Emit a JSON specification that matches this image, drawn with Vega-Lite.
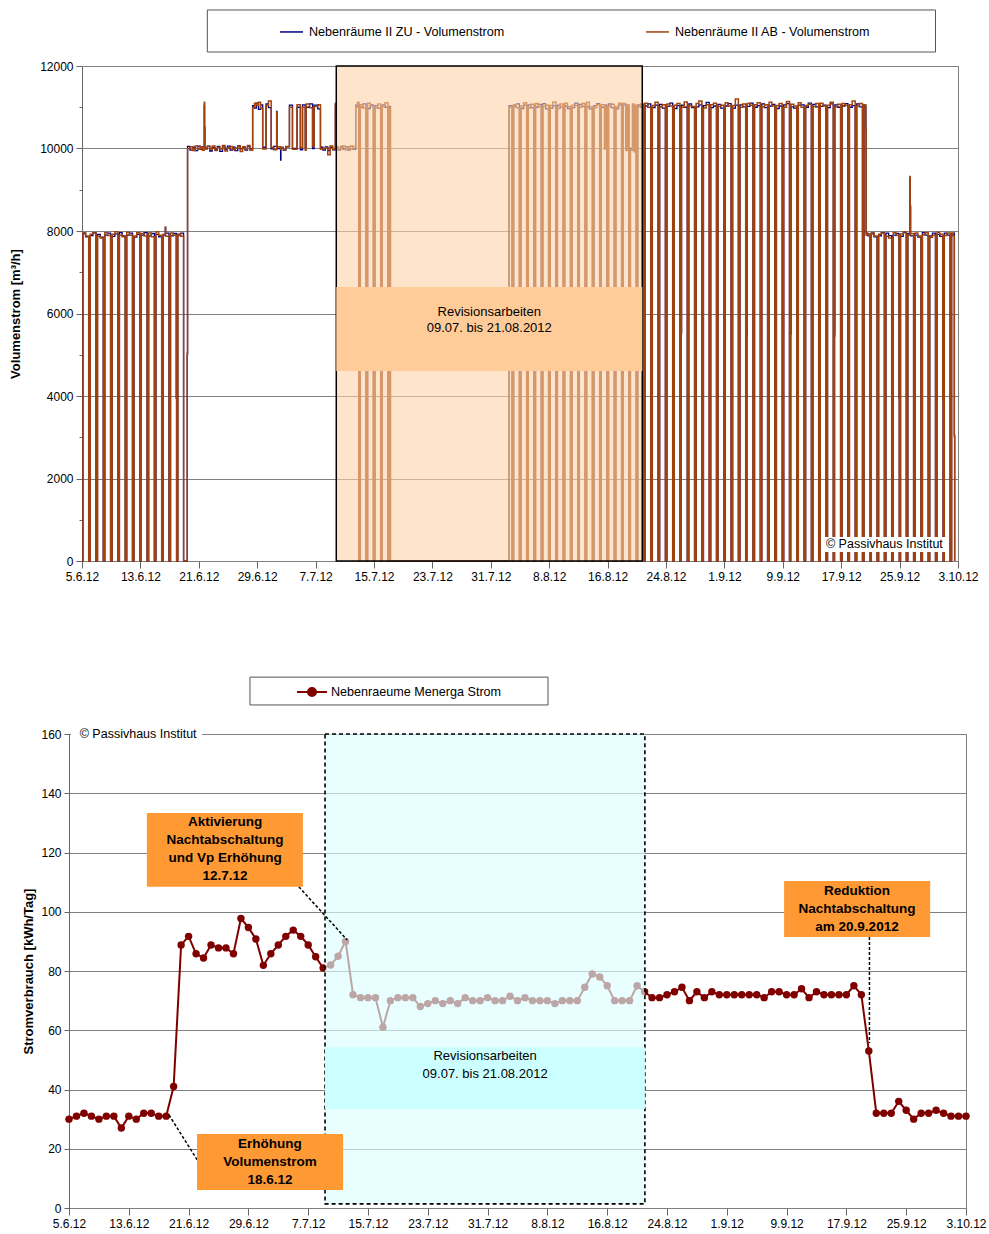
{
"$schema": "https://vega.github.io/schema/vega-lite/v6.json",
"padding": {"left": 9, "top": 8, "right": 2, "bottom": 4},
"spacing": 92,
"config": {
  "font": "Liberation Sans",
  "view": {"stroke": "#808080", "strokeWidth": 1},
  "axis": {"labelFontSize": 12, "labelColor": "black", "titleFontSize": 13, "titleFontWeight": "bold", "titleColor": "black", "domainColor": "#666666", "tickColor": "#666666", "gridColor": "#808080", "gridWidth": 1, "labelFont": "Liberation Sans", "titleFont": "Liberation Sans"},
  "legend": {"labelFontSize": 12.6, "labelColor": "black", "labelFont": "Liberation Sans"},
  "text": {"font": "Liberation Sans"}
},
"resolve": {"scale": {"color": "independent"}, "legend": {"color": "independent"}},
"datasets": {
"flow": [
{"t":"2012-06-05 00","zu":0,"ab":0},
{"t":"2012-06-05 03","zu":7930,"ab":7960},
{"t":"2012-06-05 12","zu":7860,"ab":7880},
{"t":"2012-06-05 22","zu":0,"ab":0},
{"t":"2012-06-06 03","zu":7890,"ab":7920},
{"t":"2012-06-06 12","zu":7960,"ab":7950},
{"t":"2012-06-06 22","zu":0,"ab":0},
{"t":"2012-06-07 03","zu":7920,"ab":7870},
{"t":"2012-06-07 12","zu":7850,"ab":7830},
{"t":"2012-06-07 22","zu":0,"ab":0},
{"t":"2012-06-08 03","zu":7900,"ab":7960},
{"t":"2012-06-08 12","zu":7950,"ab":7890},
{"t":"2012-06-08 22","zu":0,"ab":0},
{"t":"2012-06-09 03","zu":7870,"ab":7920},
{"t":"2012-06-09 12","zu":7930,"ab":7980},
{"t":"2012-06-09 22","zu":0,"ab":0},
{"t":"2012-06-10 03","zu":7960,"ab":7900},
{"t":"2012-06-10 12","zu":7880,"ab":7860},
{"t":"2012-06-10 22","zu":0,"ab":0},
{"t":"2012-06-11 03","zu":7900,"ab":7970},
{"t":"2012-06-11 12","zu":7950,"ab":7900},
{"t":"2012-06-11 22","zu":0,"ab":0},
{"t":"2012-06-12 03","zu":7850,"ab":7880},
{"t":"2012-06-12 12","zu":7920,"ab":7960},
{"t":"2012-06-12 22","zu":0,"ab":0},
{"t":"2012-06-13 02","zu":3950,"ab":3950},
{"t":"2012-06-13 03","zu":7900,"ab":7940},
{"t":"2012-06-13 12","zu":7960,"ab":7880},
{"t":"2012-06-13 22","zu":0,"ab":0},
{"t":"2012-06-14 03","zu":7880,"ab":7950},
{"t":"2012-06-14 12","zu":7940,"ab":7860},
{"t":"2012-06-14 22","zu":0,"ab":0},
{"t":"2012-06-15 03","zu":7920,"ab":7980},
{"t":"2012-06-15 12","zu":7860,"ab":7900},
{"t":"2012-06-15 22","zu":0,"ab":0},
{"t":"2012-06-16 03","zu":7900,"ab":7920},
{"t":"2012-06-16 10","zu":8080,"ab":8100},
{"t":"2012-06-16 11","zu":7950,"ab":7870},
{"t":"2012-06-16 22","zu":0,"ab":0},
{"t":"2012-06-17 03","zu":7880,"ab":7950},
{"t":"2012-06-17 12","zu":7940,"ab":7900},
{"t":"2012-06-17 22","zu":3950,"ab":3950},
{"t":"2012-06-17 23","zu":0,"ab":0},
{"t":"2012-06-18 03","zu":7900,"ab":7930},
{"t":"2012-06-18 12","zu":7950,"ab":7870},
{"t":"2012-06-18 22","zu":0,"ab":0},
{"t":"2012-06-19 10","zu":5000,"ab":5050},
{"t":"2012-06-19 11","zu":10050,"ab":10000},
{"t":"2012-06-19 19","zu":9960,"ab":10040},
{"t":"2012-06-20 04","zu":10030,"ab":9950},
{"t":"2012-06-20 12","zu":9950,"ab":10060},
{"t":"2012-06-20 20","zu":10060,"ab":9980},
{"t":"2012-06-21 05","zu":9980,"ab":10040},
{"t":"2012-06-21 12","zu":10040,"ab":9960},
{"t":"2012-06-21 18","zu":11050,"ab":11120},
{"t":"2012-06-21 19","zu":10500,"ab":10530},
{"t":"2012-06-21 20","zu":10000,"ab":9990},
{"t":"2012-06-22 04","zu":10060,"ab":10050},
{"t":"2012-06-22 12","zu":9940,"ab":9980},
{"t":"2012-06-22 20","zu":10020,"ab":10060},
{"t":"2012-06-23 05","zu":9970,"ab":9950},
{"t":"2012-06-23 13","zu":10050,"ab":10030},
{"t":"2012-06-23 21","zu":9930,"ab":9990},
{"t":"2012-06-24 06","zu":10040,"ab":10070},
{"t":"2012-06-24 14","zu":9980,"ab":9940},
{"t":"2012-06-24 22","zu":10060,"ab":10020},
{"t":"2012-06-25 07","zu":9960,"ab":10050},
{"t":"2012-06-25 15","zu":10030,"ab":9970},
{"t":"2012-06-25 23","zu":9950,"ab":10010},
{"t":"2012-06-26 08","zu":10070,"ab":10060},
{"t":"2012-06-26 16","zu":9990,"ab":9930},
{"t":"2012-06-27 00","zu":10030,"ab":10040},
{"t":"2012-06-27 08","zu":9960,"ab":9980},
{"t":"2012-06-27 16","zu":10050,"ab":10070},
{"t":"2012-06-28 00","zu":9990,"ab":9960},
{"t":"2012-06-28 09","zu":11040,"ab":11000},
{"t":"2012-06-28 15","zu":10980,"ab":11100},
{"t":"2012-06-28 21","zu":11100,"ab":11050},
{"t":"2012-06-29 04","zu":10950,"ab":11120},
{"t":"2012-06-29 11","zu":11060,"ab":10980},
{"t":"2012-06-29 18","zu":10030,"ab":9990},
{"t":"2012-06-30 05","zu":11080,"ab":11040},
{"t":"2012-06-30 13","zu":10990,"ab":11150},
{"t":"2012-06-30 22","zu":9990,"ab":10030},
{"t":"2012-07-01 06","zu":10050,"ab":9970},
{"t":"2012-07-01 16","zu":10900,"ab":10880},
{"t":"2012-07-01 17","zu":10000,"ab":10040},
{"t":"2012-07-02 05","zu":9720,"ab":9980},
{"t":"2012-07-02 06","zu":10020,"ab":10030},
{"t":"2012-07-02 14","zu":9960,"ab":9970},
{"t":"2012-07-02 22","zu":10040,"ab":10050},
{"t":"2012-07-03 10","zu":11050,"ab":11000},
{"t":"2012-07-03 20","zu":10000,"ab":9980},
{"t":"2012-07-04 11","zu":11000,"ab":11060},
{"t":"2012-07-04 22","zu":9970,"ab":10020},
{"t":"2012-07-05 05","zu":11060,"ab":11000},
{"t":"2012-07-05 14","zu":10020,"ab":9960},
{"t":"2012-07-05 17","zu":11000,"ab":11080},
{"t":"2012-07-06 04","zu":11080,"ab":10990},
{"t":"2012-07-06 14","zu":10000,"ab":10050},
{"t":"2012-07-06 19","zu":11050,"ab":11020},
{"t":"2012-07-07 07","zu":10960,"ab":11060},
{"t":"2012-07-07 16","zu":10030,"ab":9980},
{"t":"2012-07-08 00","zu":9960,"ab":10000},
{"t":"2012-07-08 08","zu":10040,"ab":10020},
{"t":"2012-07-08 16","zu":9950,"ab":9850},
{"t":"2012-07-09 00","zu":10030,"ab":10060},
{"t":"2012-07-09 08","zu":9970,"ab":9980},
{"t":"2012-07-09 17","zu":11050,"ab":11100},
{"t":"2012-07-09 18","zu":10010,"ab":10040},
{"t":"2012-07-10 02","zu":9960,"ab":9980},
{"t":"2012-07-10 10","zu":10050,"ab":10030},
{"t":"2012-07-10 18","zu":9980,"ab":10060},
{"t":"2012-07-11 02","zu":10040,"ab":9970},
{"t":"2012-07-11 10","zu":9960,"ab":10040},
{"t":"2012-07-11 18","zu":10060,"ab":9990},
{"t":"2012-07-12 02","zu":9980,"ab":10050},
{"t":"2012-07-12 12","zu":11050,"ab":11000},
{"t":"2012-07-12 18","zu":11100,"ab":11120},
{"t":"2012-07-12 22","zu":0,"ab":0},
{"t":"2012-07-13 03","zu":11000,"ab":11060},
{"t":"2012-07-13 12","zu":11080,"ab":10980},
{"t":"2012-07-13 22","zu":0,"ab":0},
{"t":"2012-07-14 03","zu":10970,"ab":11100},
{"t":"2012-07-14 12","zu":11060,"ab":11030},
{"t":"2012-07-14 22","zu":0,"ab":0},
{"t":"2012-07-15 03","zu":11040,"ab":10990},
{"t":"2012-07-15 12","zu":10980,"ab":11080},
{"t":"2012-07-15 22","zu":0,"ab":0},
{"t":"2012-07-16 03","zu":11060,"ab":11020},
{"t":"2012-07-16 12","zu":11000,"ab":11110},
{"t":"2012-07-16 22","zu":0,"ab":0},
{"t":"2012-07-17 03","zu":11020,"ab":10980},
{"t":"2012-07-17 06","zu":0,"ab":0},
{"t":"2012-08-02 12","zu":11040,"ab":11000},
{"t":"2012-08-02 22","zu":0,"ab":0},
{"t":"2012-08-03 03","zu":11020,"ab":11060},
{"t":"2012-08-03 12","zu":11080,"ab":10990},
{"t":"2012-08-03 22","zu":0,"ab":0},
{"t":"2012-08-04 03","zu":10970,"ab":11030},
{"t":"2012-08-04 12","zu":11050,"ab":11110},
{"t":"2012-08-04 22","zu":0,"ab":0},
{"t":"2012-08-05 03","zu":11060,"ab":10980},
{"t":"2012-08-05 12","zu":10990,"ab":11070},
{"t":"2012-08-05 22","zu":0,"ab":0},
{"t":"2012-08-06 03","zu":11000,"ab":11090},
{"t":"2012-08-06 12","zu":11070,"ab":11010},
{"t":"2012-08-06 22","zu":0,"ab":0},
{"t":"2012-08-07 03","zu":11090,"ab":11020},
{"t":"2012-08-07 12","zu":10960,"ab":11050},
{"t":"2012-08-07 22","zu":0,"ab":0},
{"t":"2012-08-08 03","zu":10980,"ab":11040},
{"t":"2012-08-08 12","zu":11040,"ab":11130},
{"t":"2012-08-08 22","zu":0,"ab":0},
{"t":"2012-08-09 03","zu":11050,"ab":10970},
{"t":"2012-08-09 12","zu":11010,"ab":11080},
{"t":"2012-08-09 22","zu":0,"ab":0},
{"t":"2012-08-10 03","zu":11030,"ab":11100},
{"t":"2012-08-10 12","zu":10970,"ab":11020},
{"t":"2012-08-10 22","zu":0,"ab":0},
{"t":"2012-08-11 03","zu":10990,"ab":11050},
{"t":"2012-08-11 12","zu":11100,"ab":11040},
{"t":"2012-08-11 22","zu":0,"ab":0},
{"t":"2012-08-12 03","zu":11070,"ab":11000},
{"t":"2012-08-12 12","zu":11020,"ab":11090},
{"t":"2012-08-12 22","zu":0,"ab":0},
{"t":"2012-08-13 03","zu":11010,"ab":11120},
{"t":"2012-08-13 12","zu":10960,"ab":11010},
{"t":"2012-08-13 22","zu":0,"ab":0},
{"t":"2012-08-14 03","zu":11040,"ab":10990},
{"t":"2012-08-14 12","zu":11090,"ab":11060},
{"t":"2012-08-14 22","zu":0,"ab":0},
{"t":"2012-08-15 03","zu":11000,"ab":11060},
{"t":"2012-08-15 14","zu":10010,"ab":9990},
{"t":"2012-08-15 17","zu":11050,"ab":11020},
{"t":"2012-08-15 22","zu":0,"ab":0},
{"t":"2012-08-16 03","zu":11080,"ab":11030},
{"t":"2012-08-16 12","zu":10990,"ab":11070},
{"t":"2012-08-16 22","zu":0,"ab":0},
{"t":"2012-08-17 03","zu":10960,"ab":11010},
{"t":"2012-08-17 12","zu":11060,"ab":11100},
{"t":"2012-08-17 22","zu":0,"ab":0},
{"t":"2012-08-18 03","zu":11050,"ab":11090},
{"t":"2012-08-18 12","zu":9990,"ab":9950},
{"t":"2012-08-18 16","zu":11020,"ab":11060},
{"t":"2012-08-18 22","zu":0,"ab":0},
{"t":"2012-08-19 03","zu":10000,"ab":9960},
{"t":"2012-08-19 10","zu":11040,"ab":11080},
{"t":"2012-08-19 15","zu":9990,"ab":9920},
{"t":"2012-08-19 19","zu":11010,"ab":11050},
{"t":"2012-08-19 22","zu":0,"ab":0},
{"t":"2012-08-20 03","zu":11060,"ab":11010},
{"t":"2012-08-20 12","zu":11000,"ab":11080},
{"t":"2012-08-20 22","zu":0,"ab":0},
{"t":"2012-08-21 03","zu":11030,"ab":11100},
{"t":"2012-08-21 12","zu":11080,"ab":11000},
{"t":"2012-08-21 22","zu":0,"ab":0},
{"t":"2012-08-22 03","zu":10990,"ab":11040},
{"t":"2012-08-22 12","zu":11050,"ab":11120},
{"t":"2012-08-22 22","zu":0,"ab":0},
{"t":"2012-08-23 03","zu":11070,"ab":11010},
{"t":"2012-08-23 12","zu":10980,"ab":11060},
{"t":"2012-08-23 22","zu":0,"ab":0},
{"t":"2012-08-24 03","zu":11020,"ab":11080},
{"t":"2012-08-24 12","zu":11100,"ab":11030},
{"t":"2012-08-24 22","zu":0,"ab":0},
{"t":"2012-08-25 03","zu":10970,"ab":11050},
{"t":"2012-08-25 12","zu":11040,"ab":11090},
{"t":"2012-08-25 22","zu":0,"ab":0},
{"t":"2012-08-26 02","zu":5500,"ab":5550},
{"t":"2012-08-26 03","zu":11050,"ab":11000},
{"t":"2012-08-26 12","zu":11000,"ab":11130},
{"t":"2012-08-26 22","zu":0,"ab":0},
{"t":"2012-08-27 03","zu":11080,"ab":11040},
{"t":"2012-08-27 12","zu":10990,"ab":11020},
{"t":"2012-08-27 22","zu":0,"ab":0},
{"t":"2012-08-28 03","zu":11010,"ab":11090},
{"t":"2012-08-28 12","zu":11060,"ab":11150},
{"t":"2012-08-28 22","zu":0,"ab":0},
{"t":"2012-08-29 03","zu":11040,"ab":10980},
{"t":"2012-08-29 12","zu":11120,"ab":11060},
{"t":"2012-08-29 22","zu":0,"ab":0},
{"t":"2012-08-30 03","zu":10990,"ab":11060},
{"t":"2012-08-30 12","zu":11030,"ab":11100},
{"t":"2012-08-30 22","zu":0,"ab":0},
{"t":"2012-08-31 03","zu":11070,"ab":11020},
{"t":"2012-08-31 12","zu":10980,"ab":11050},
{"t":"2012-08-31 22","zu":0,"ab":0},
{"t":"2012-09-01 03","zu":11030,"ab":11110},
{"t":"2012-09-01 12","zu":11090,"ab":11030},
{"t":"2012-09-01 22","zu":0,"ab":0},
{"t":"2012-09-02 03","zu":10980,"ab":11040},
{"t":"2012-09-02 12","zu":11050,"ab":11200},
{"t":"2012-09-02 22","zu":0,"ab":0},
{"t":"2012-09-03 03","zu":11060,"ab":11000},
{"t":"2012-09-03 12","zu":11010,"ab":11080},
{"t":"2012-09-03 22","zu":0,"ab":0},
{"t":"2012-09-04 02","zu":5450,"ab":5500},
{"t":"2012-09-04 03","zu":11020,"ab":11090},
{"t":"2012-09-04 12","zu":11100,"ab":11050},
{"t":"2012-09-04 22","zu":0,"ab":0},
{"t":"2012-09-05 03","zu":11000,"ab":11060},
{"t":"2012-09-05 12","zu":11040,"ab":11110},
{"t":"2012-09-05 22","zu":0,"ab":0},
{"t":"2012-09-06 03","zu":11080,"ab":11010},
{"t":"2012-09-06 12","zu":10990,"ab":11060},
{"t":"2012-09-06 22","zu":0,"ab":0},
{"t":"2012-09-07 03","zu":11030,"ab":11120},
{"t":"2012-09-07 12","zu":11070,"ab":11030},
{"t":"2012-09-07 22","zu":0,"ab":0},
{"t":"2012-09-08 03","zu":10970,"ab":11040},
{"t":"2012-09-08 12","zu":11030,"ab":11090},
{"t":"2012-09-08 22","zu":0,"ab":0},
{"t":"2012-09-09 03","zu":11060,"ab":11000},
{"t":"2012-09-09 12","zu":11090,"ab":11140},
{"t":"2012-09-09 22","zu":0,"ab":0},
{"t":"2012-09-10 02","zu":5500,"ab":5500},
{"t":"2012-09-10 03","zu":11010,"ab":11070},
{"t":"2012-09-10 12","zu":10980,"ab":11030},
{"t":"2012-09-10 22","zu":0,"ab":0},
{"t":"2012-09-11 03","zu":11050,"ab":11110},
{"t":"2012-09-11 12","zu":11060,"ab":11000},
{"t":"2012-09-11 22","zu":0,"ab":0},
{"t":"2012-09-12 03","zu":11000,"ab":11040},
{"t":"2012-09-12 12","zu":11100,"ab":11070},
{"t":"2012-09-12 22","zu":0,"ab":0},
{"t":"2012-09-13 03","zu":11070,"ab":11020},
{"t":"2012-09-13 12","zu":11010,"ab":11090},
{"t":"2012-09-13 22","zu":0,"ab":0},
{"t":"2012-09-14 03","zu":11020,"ab":11100},
{"t":"2012-09-14 12","zu":11050,"ab":11030},
{"t":"2012-09-14 22","zu":0,"ab":0},
{"t":"2012-09-15 03","zu":10990,"ab":11050},
{"t":"2012-09-15 12","zu":11080,"ab":11120},
{"t":"2012-09-15 22","zu":0,"ab":0},
{"t":"2012-09-16 02","zu":5450,"ab":5520},
{"t":"2012-09-16 03","zu":11060,"ab":11010},
{"t":"2012-09-16 12","zu":11000,"ab":11070},
{"t":"2012-09-16 22","zu":0,"ab":0},
{"t":"2012-09-17 03","zu":11030,"ab":11090},
{"t":"2012-09-17 12","zu":11090,"ab":11040},
{"t":"2012-09-17 22","zu":0,"ab":0},
{"t":"2012-09-18 03","zu":11000,"ab":11060},
{"t":"2012-09-18 12","zu":11040,"ab":11150},
{"t":"2012-09-18 22","zu":0,"ab":0},
{"t":"2012-09-19 03","zu":11080,"ab":11030},
{"t":"2012-09-19 12","zu":11010,"ab":11090},
{"t":"2012-09-19 22","zu":0,"ab":0},
{"t":"2012-09-20 03","zu":11020,"ab":11060},
{"t":"2012-09-20 09","zu":10500,"ab":10480},
{"t":"2012-09-20 10","zu":7950,"ab":7900},
{"t":"2012-09-20 16","zu":7880,"ab":7930},
{"t":"2012-09-20 22","zu":3950,"ab":3950},
{"t":"2012-09-20 23","zu":0,"ab":0},
{"t":"2012-09-21 03","zu":7930,"ab":7960},
{"t":"2012-09-21 12","zu":7860,"ab":7880},
{"t":"2012-09-21 22","zu":0,"ab":0},
{"t":"2012-09-22 03","zu":7880,"ab":7920},
{"t":"2012-09-22 12","zu":7960,"ab":7950},
{"t":"2012-09-22 22","zu":0,"ab":0},
{"t":"2012-09-23 03","zu":7950,"ab":7870},
{"t":"2012-09-23 12","zu":7890,"ab":7830},
{"t":"2012-09-23 22","zu":0,"ab":0},
{"t":"2012-09-24 03","zu":7900,"ab":7960},
{"t":"2012-09-24 12","zu":7940,"ab":7890},
{"t":"2012-09-24 22","zu":3950,"ab":3950},
{"t":"2012-09-24 23","zu":0,"ab":0},
{"t":"2012-09-25 03","zu":7870,"ab":7930},
{"t":"2012-09-25 12","zu":7960,"ab":7980},
{"t":"2012-09-25 22","zu":0,"ab":0},
{"t":"2012-09-26 03","zu":7940,"ab":7900},
{"t":"2012-09-26 10","zu":9280,"ab":9320},
{"t":"2012-09-26 11","zu":8580,"ab":8620},
{"t":"2012-09-26 12","zu":7880,"ab":7940},
{"t":"2012-09-26 22","zu":0,"ab":0},
{"t":"2012-09-27 03","zu":7900,"ab":7950},
{"t":"2012-09-27 12","zu":7850,"ab":7880},
{"t":"2012-09-27 22","zu":0,"ab":0},
{"t":"2012-09-28 03","zu":7960,"ab":7910},
{"t":"2012-09-28 12","zu":7900,"ab":7960},
{"t":"2012-09-28 22","zu":0,"ab":0},
{"t":"2012-09-29 03","zu":7880,"ab":7850},
{"t":"2012-09-29 12","zu":7950,"ab":7900},
{"t":"2012-09-29 22","zu":0,"ab":0},
{"t":"2012-09-30 03","zu":7920,"ab":7970},
{"t":"2012-09-30 12","zu":7870,"ab":7920},
{"t":"2012-09-30 22","zu":3900,"ab":3900},
{"t":"2012-09-30 23","zu":0,"ab":0},
{"t":"2012-10-01 03","zu":7950,"ab":7890},
{"t":"2012-10-01 12","zu":7900,"ab":7950},
{"t":"2012-10-01 22","zu":0,"ab":0},
{"t":"2012-10-02 03","zu":7900,"ab":7950},
{"t":"2012-10-02 09","zu":7950,"ab":7880},
{"t":"2012-10-02 12","zu":3050,"ab":3000},
{"t":"2012-10-02 13","zu":0,"ab":0}
],
"power": [
{"date":"2012-06-05","kwh":30},{"date":"2012-06-06","kwh":31},{"date":"2012-06-07","kwh":32},{"date":"2012-06-08","kwh":31},{"date":"2012-06-09","kwh":30},
{"date":"2012-06-10","kwh":31},{"date":"2012-06-11","kwh":31},{"date":"2012-06-12","kwh":27},{"date":"2012-06-13","kwh":31},{"date":"2012-06-14","kwh":30},
{"date":"2012-06-15","kwh":32},{"date":"2012-06-16","kwh":32},{"date":"2012-06-17","kwh":31},{"date":"2012-06-18","kwh":31},{"date":"2012-06-19","kwh":41},
{"date":"2012-06-20","kwh":88.8},{"date":"2012-06-21","kwh":91.7},{"date":"2012-06-22","kwh":85.8},{"date":"2012-06-23","kwh":84.4},{"date":"2012-06-24","kwh":88.8},
{"date":"2012-06-25","kwh":87.8},{"date":"2012-06-26","kwh":87.8},{"date":"2012-06-27","kwh":85.8},{"date":"2012-06-28","kwh":97.7},{"date":"2012-06-29","kwh":94.7},
{"date":"2012-06-30","kwh":90.8},{"date":"2012-07-01","kwh":81.9},{"date":"2012-07-02","kwh":85.8},{"date":"2012-07-03","kwh":88.8},{"date":"2012-07-04","kwh":91.7},
{"date":"2012-07-05","kwh":93.8},{"date":"2012-07-06","kwh":91.7},{"date":"2012-07-07","kwh":88.8},{"date":"2012-07-08","kwh":84.8},{"date":"2012-07-09","kwh":81},
{"date":"2012-07-10","kwh":82},{"date":"2012-07-11","kwh":85},{"date":"2012-07-12","kwh":90},{"date":"2012-07-13","kwh":72},{"date":"2012-07-14","kwh":71},
{"date":"2012-07-15","kwh":71},{"date":"2012-07-16","kwh":71},{"date":"2012-07-17","kwh":61},{"date":"2012-07-18","kwh":70},{"date":"2012-07-19","kwh":71},
{"date":"2012-07-20","kwh":71},{"date":"2012-07-21","kwh":71},{"date":"2012-07-22","kwh":68},{"date":"2012-07-23","kwh":69},{"date":"2012-07-24","kwh":70},
{"date":"2012-07-25","kwh":69},{"date":"2012-07-26","kwh":70},{"date":"2012-07-27","kwh":69},{"date":"2012-07-28","kwh":71},{"date":"2012-07-29","kwh":70},
{"date":"2012-07-30","kwh":70},{"date":"2012-07-31","kwh":71},{"date":"2012-08-01","kwh":70},{"date":"2012-08-02","kwh":70},{"date":"2012-08-03","kwh":71.5},
{"date":"2012-08-04","kwh":70},{"date":"2012-08-05","kwh":71},{"date":"2012-08-06","kwh":70},{"date":"2012-08-07","kwh":70},{"date":"2012-08-08","kwh":70},
{"date":"2012-08-09","kwh":69},{"date":"2012-08-10","kwh":70},{"date":"2012-08-11","kwh":70},{"date":"2012-08-12","kwh":70},{"date":"2012-08-13","kwh":74.5},
{"date":"2012-08-14","kwh":79},{"date":"2012-08-15","kwh":78},{"date":"2012-08-16","kwh":75},{"date":"2012-08-17","kwh":70},{"date":"2012-08-18","kwh":70},
{"date":"2012-08-19","kwh":70},{"date":"2012-08-20","kwh":75},{"date":"2012-08-21","kwh":73},{"date":"2012-08-22","kwh":71},{"date":"2012-08-23","kwh":71},
{"date":"2012-08-24","kwh":72},{"date":"2012-08-25","kwh":73},{"date":"2012-08-26","kwh":74.5},{"date":"2012-08-27","kwh":70},{"date":"2012-08-28","kwh":73},
{"date":"2012-08-29","kwh":71},{"date":"2012-08-30","kwh":73},{"date":"2012-08-31","kwh":72},{"date":"2012-09-01","kwh":72},{"date":"2012-09-02","kwh":72},
{"date":"2012-09-03","kwh":72},{"date":"2012-09-04","kwh":72},{"date":"2012-09-05","kwh":72},{"date":"2012-09-06","kwh":71},{"date":"2012-09-07","kwh":73},
{"date":"2012-09-08","kwh":73},{"date":"2012-09-09","kwh":72},{"date":"2012-09-10","kwh":72},{"date":"2012-09-11","kwh":74},{"date":"2012-09-12","kwh":71},
{"date":"2012-09-13","kwh":73},{"date":"2012-09-14","kwh":72},{"date":"2012-09-15","kwh":72},{"date":"2012-09-16","kwh":72},{"date":"2012-09-17","kwh":72},
{"date":"2012-09-18","kwh":75},{"date":"2012-09-19","kwh":72},{"date":"2012-09-20","kwh":53},{"date":"2012-09-21","kwh":32},{"date":"2012-09-22","kwh":32},
{"date":"2012-09-23","kwh":32},{"date":"2012-09-24","kwh":36},{"date":"2012-09-25","kwh":33},{"date":"2012-09-26","kwh":30},{"date":"2012-09-27","kwh":32},
{"date":"2012-09-28","kwh":32},{"date":"2012-09-29","kwh":33},{"date":"2012-09-30","kwh":32},{"date":"2012-10-01","kwh":31},{"date":"2012-10-02","kwh":31},
{"date":"2012-10-03","kwh":31}
]
},
"vconcat": [
{
 "hconcat": [
  {
   "width": 3, "height": 495,
   "data": {"values": []},
   "mark": {"type": "point", "opacity": 0},
   "encoding": {},
   "view": {"stroke": null}
  },
  {
   "width": 876, "height": 495,
   "data": {"name": "flow", "format": {"parse": {"t": "utc:'%Y-%m-%d %H'"}}},
   "layer": [
    {
     "mark": {"type": "line", "interpolate": "step-after", "strokeWidth": 1.3},
     "encoding": {
      "x": {"field": "t", "type": "temporal", "scale": {"type": "utc", "domain": [{"year": 2012, "month": 6, "date": 5, "utc": true}, {"year": 2012, "month": 10, "date": 3, "utc": true}]},
       "axis": {"title": null, "grid": false, "labelFlush": false, "labelOverlap": false, "labelPadding": 3, "domainColor": "#808080",
        "values": [1338854400000,1339027200000,1339200000000,1339372800000,1339545600000,1339718400000,1339891200000,1340064000000,1340236800000,1340409600000,1340582400000,1340755200000,1340928000000,1341100800000,1341273600000,1341446400000,1341619200000,1341792000000,1341964800000,1342137600000,1342310400000,1342483200000,1342656000000,1342828800000,1343001600000,1343174400000,1343347200000,1343520000000,1343692800000,1343865600000,1344038400000,1344211200000,1344384000000,1344556800000,1344729600000,1344902400000,1345075200000,1345248000000,1345420800000,1345593600000,1345766400000,1345939200000,1346112000000,1346284800000,1346457600000,1346630400000,1346803200000,1346976000000,1347148800000,1347321600000,1347494400000,1347667200000,1347840000000,1348012800000,1348185600000,1348358400000,1348531200000,1348704000000,1348876800000,1349049600000,1349222400000],
        "labelExpr": "(datum.value - 1338854400000) % 691200000 === 0 ? utcFormat(datum.value, '%-d.%-m.%y') : ''",
        "tickSize": {"condition": {"test": "(datum.value - 1338854400000) % 691200000 === 0", "value": 7}, "value": 3}}},
      "y": {"field": "zu", "type": "quantitative", "scale": {"domain": [0, 12000], "nice": false},
       "axis": {"title": "Volumenstrom [m³/h]", "format": "d", "labelOverlap": false, "labelPadding": 3, "titlePadding": 17,
        "values": [0,500,1000,1500,2000,2500,3000,3500,4000,4500,5000,5500,6000,6500,7000,7500,8000,8500,9000,9500,10000,10500,11000,11500,12000],
        "labelExpr": "datum.value % 2000 === 0 ? datum.label : ''",
        "gridOpacity": {"condition": {"test": "datum.value % 2000 === 0", "value": 1}, "value": 0},
        "tickSize": {"condition": {"test": "datum.value % 2000 === 0", "value": 6}, "value": 3}}},
      "color": {"datum": "Nebenräume II ZU - Volumenstrom", "type": "nominal",
       "scale": {"domain": ["Nebenräume II ZU - Volumenstrom", "Nebenräume II AB - Volumenstrom"], "range": ["#000080", "#A0410D"]},
       "legend": {"orient": "none", "legendX": 197, "legendY": -47, "direction": "horizontal", "title": null, "symbolType": "stroke", "symbolSize": 529, "symbolStrokeWidth": 1.5, "labelOffset": 5, "columnPadding": 138, "padding": 0, "labelLimit": 300}}
     }
    },
    {
     "mark": {"type": "line", "interpolate": "step-after", "strokeWidth": 1.5},
     "encoding": {
      "x": {"field": "t", "type": "temporal", "scale": {"type": "utc", "domain": [{"year": 2012, "month": 6, "date": 5, "utc": true}, {"year": 2012, "month": 10, "date": 3, "utc": true}]}},
      "y": {"field": "ab", "type": "quantitative", "scale": {"domain": [0, 12000], "nice": false}},
      "color": {"datum": "Nebenräume II AB - Volumenstrom", "type": "nominal"}
     }
    },
    {
     "data": {"values": [{"t1": "2012-07-09 20", "t2": "2012-08-20 18", "y1": 0, "y2": 12000}], "format": {"parse": {"t1": "utc:'%Y-%m-%d %H'", "t2": "utc:'%Y-%m-%d %H'"}}},
     "mark": {"type": "rect", "fill": "#FCD2A6", "fillOpacity": 0.6, "stroke": "black", "strokeWidth": 1.5},
     "encoding": {
      "x": {"field": "t1", "type": "temporal", "scale": {"type": "utc", "domain": [{"year": 2012, "month": 6, "date": 5, "utc": true}, {"year": 2012, "month": 10, "date": 3, "utc": true}]}},
      "x2": {"field": "t2"},
      "y": {"field": "y1", "type": "quantitative", "scale": {"domain": [0, 12000], "nice": false}},
      "y2": {"field": "y2"}
     }
    },
    {
     "data": {"values": [{"t1": "2012-07-09 20", "t2": "2012-08-20 18", "y1": 4606, "y2": 6642}], "format": {"parse": {"t1": "utc:'%Y-%m-%d %H'", "t2": "utc:'%Y-%m-%d %H'"}}},
     "mark": {"type": "rect", "fill": "#FFCC99"},
     "encoding": {
      "x": {"field": "t1", "type": "temporal", "scale": {"type": "utc", "domain": [{"year": 2012, "month": 6, "date": 5, "utc": true}, {"year": 2012, "month": 10, "date": 3, "utc": true}]}},
      "x2": {"field": "t2"},
      "y": {"field": "y1", "type": "quantitative", "scale": {"domain": [0, 12000], "nice": false}},
      "y2": {"field": "y2"}
     }
    },
    {
     "data": {"values": [{"tx": "2012-07-30 19", "ty": 6036, "label": "Revisionsarbeiten\n09.07. bis 21.08.2012"}], "format": {"parse": {"tx": "utc:'%Y-%m-%d %H'"}}},
     "mark": {"type": "text", "fontSize": 13, "lineBreak": "\n", "lineHeight": 16, "align": "center", "baseline": "middle", "color": "black"},
     "encoding": {
      "x": {"field": "tx", "type": "temporal", "scale": {"type": "utc", "domain": [{"year": 2012, "month": 6, "date": 5, "utc": true}, {"year": 2012, "month": 10, "date": 3, "utc": true}]}},
      "y": {"field": "ty", "type": "quantitative", "scale": {"domain": [0, 12000], "nice": false}},
      "text": {"field": "label"}
     }
    },
    {
     "data": {"values": [{"t1": "2012-06-22 04", "t2": "2012-09-29 22", "y1": 12339, "y2": 13358}], "format": {"parse": {"t1": "utc:'%Y-%m-%d %H'", "t2": "utc:'%Y-%m-%d %H'"}}},
     "mark": {"type": "rect", "fillOpacity": 0, "stroke": "#555555", "strokeWidth": 1},
     "encoding": {
      "x": {"field": "t1", "type": "temporal", "scale": {"type": "utc", "domain": [{"year": 2012, "month": 6, "date": 5, "utc": true}, {"year": 2012, "month": 10, "date": 3, "utc": true}]}},
      "x2": {"field": "t2"},
      "y": {"field": "y1", "type": "quantitative", "scale": {"domain": [0, 12000], "nice": false}},
      "y2": {"field": "y2"}
     }
    },
    {
     "data": {"values": [{"t1": "2012-09-14 06", "t2": "2012-10-01 12", "y1": 218, "y2": 582}], "format": {"parse": {"t1": "utc:'%Y-%m-%d %H'", "t2": "utc:'%Y-%m-%d %H'"}}},
     "mark": {"type": "rect", "fill": "white"},
     "encoding": {
      "x": {"field": "t1", "type": "temporal", "scale": {"type": "utc", "domain": [{"year": 2012, "month": 6, "date": 5, "utc": true}, {"year": 2012, "month": 10, "date": 3, "utc": true}]}},
      "x2": {"field": "t2"},
      "y": {"field": "y1", "type": "quantitative", "scale": {"domain": [0, 12000], "nice": false}},
      "y2": {"field": "y2"}
     }
    },
    {
     "data": {"values": [{"tx": "2012-09-22 22", "ty": 412, "label": "© Passivhaus Institut"}], "format": {"parse": {"tx": "utc:'%Y-%m-%d %H'"}}},
     "mark": {"type": "text", "fontSize": 12.5, "align": "center", "baseline": "middle", "color": "black"},
     "encoding": {
      "x": {"field": "tx", "type": "temporal", "scale": {"type": "utc", "domain": [{"year": 2012, "month": 6, "date": 5, "utc": true}, {"year": 2012, "month": 10, "date": 3, "utc": true}]}},
      "y": {"field": "ty", "type": "quantitative", "scale": {"domain": [0, 12000], "nice": false}},
      "text": {"field": "label"}
     }
    }
   ]
  }
 ],
 "spacing": 10,
 "bounds": "flush",
 "resolve": {"scale": {"color": "independent"}, "legend": {"color": "independent"}}
},
{
 "width": 897, "height": 474,
 "layer": [
  {
   "data": {"name": "power", "format": {"parse": {"date": "utc:'%Y-%m-%d'"}}},
   "mark": {"type": "line", "strokeWidth": 2, "point": {"filled": true, "size": 55}},
   "encoding": {
    "x": {"field": "date", "type": "temporal", "scale": {"type": "utc", "domain": [{"year": 2012, "month": 6, "date": 5, "utc": true}, {"year": 2012, "month": 10, "date": 3, "utc": true}]},
     "axis": {"title": null, "grid": false, "labelFlush": false, "labelOverlap": false, "labelPadding": 3, "domainColor": "#808080",
      "values": [1338854400000,1339027200000,1339200000000,1339372800000,1339545600000,1339718400000,1339891200000,1340064000000,1340236800000,1340409600000,1340582400000,1340755200000,1340928000000,1341100800000,1341273600000,1341446400000,1341619200000,1341792000000,1341964800000,1342137600000,1342310400000,1342483200000,1342656000000,1342828800000,1343001600000,1343174400000,1343347200000,1343520000000,1343692800000,1343865600000,1344038400000,1344211200000,1344384000000,1344556800000,1344729600000,1344902400000,1345075200000,1345248000000,1345420800000,1345593600000,1345766400000,1345939200000,1346112000000,1346284800000,1346457600000,1346630400000,1346803200000,1346976000000,1347148800000,1347321600000,1347494400000,1347667200000,1347840000000,1348012800000,1348185600000,1348358400000,1348531200000,1348704000000,1348876800000,1349049600000,1349222400000],
      "labelExpr": "(datum.value - 1338854400000) % 691200000 === 0 ? utcFormat(datum.value, '%-d.%-m.%y') : ''",
      "tickSize": {"condition": {"test": "(datum.value - 1338854400000) % 691200000 === 0", "value": 7}, "value": 3}}},
    "y": {"field": "kwh", "type": "quantitative", "scale": {"domain": [0, 160], "nice": false},
     "axis": {"title": "Stromverbrauch [kWh/Tag]", "values": [0,20,40,60,80,100,120,140,160], "tickSize": 5, "labelPadding": 3, "titlePadding": 5}},
    "color": {"datum": "Nebenraeume Menerga Strom", "type": "nominal", "scale": {"range": ["#800000"]},
     "legend": {"orient": "none", "legendX": 227, "legendY": -58, "direction": "horizontal", "title": null, "symbolType": "M-1,0H1M0.27,0A0.27,0.27,0,1,1,-0.27,0A0.27,0.27,0,1,1,0.27,0Z", "symbolSize": 900, "symbolStrokeWidth": 2, "symbolFillColor": "#800000", "symbolStrokeColor": "#800000", "labelOffset": 3, "padding": 0, "labelLimit": 300}}
   }
  },
  {
   "data": {"values": [{"t1": "2012-07-09 06", "t2": "2012-08-21 01", "y1": 1.4, "y2": 160}], "format": {"parse": {"t1": "utc:'%Y-%m-%d %H'", "t2": "utc:'%Y-%m-%d %H'"}}},
   "mark": {"type": "rect", "fill": "#DDFFFF", "fillOpacity": 0.65, "stroke": "black", "strokeWidth": 1.6, "strokeDash": [4, 3]},
   "encoding": {
    "x": {"field": "t1", "type": "temporal", "scale": {"type": "utc", "domain": [{"year": 2012, "month": 6, "date": 5, "utc": true}, {"year": 2012, "month": 10, "date": 3, "utc": true}]}},
    "x2": {"field": "t2"},
    "y": {"field": "y1", "type": "quantitative", "scale": {"domain": [0, 160], "nice": false}},
    "y2": {"field": "y2"}
   }
  },
  {
   "data": {"values": [{"t1": "2012-07-09 06", "t2": "2012-08-21 01", "y1": 33.4, "y2": 54.3}], "format": {"parse": {"t1": "utc:'%Y-%m-%d %H'", "t2": "utc:'%Y-%m-%d %H'"}}},
   "mark": {"type": "rect", "fill": "#CCFFFF"},
   "encoding": {
    "x": {"field": "t1", "type": "temporal", "scale": {"type": "utc", "domain": [{"year": 2012, "month": 6, "date": 5, "utc": true}, {"year": 2012, "month": 10, "date": 3, "utc": true}]}},
    "x2": {"field": "t2"},
    "y": {"field": "y1", "type": "quantitative", "scale": {"domain": [0, 160], "nice": false}},
    "y2": {"field": "y2"}
   }
  },
  {
   "data": {"values": [{"tx": "2012-07-30 16", "ty": 51.3, "label": "Revisionsarbeiten\n09.07. bis 21.08.2012"}], "format": {"parse": {"tx": "utc:'%Y-%m-%d %H'"}}},
   "mark": {"type": "text", "fontSize": 13, "lineBreak": "\n", "lineHeight": 18, "align": "center", "baseline": "middle", "color": "black"},
   "encoding": {
    "x": {"field": "tx", "type": "temporal", "scale": {"type": "utc", "domain": [{"year": 2012, "month": 6, "date": 5, "utc": true}, {"year": 2012, "month": 10, "date": 3, "utc": true}]}},
    "y": {"field": "ty", "type": "quantitative", "scale": {"domain": [0, 160], "nice": false}},
    "text": {"field": "label"}
   }
  },
  {
   "data": {"values": [
     {"t1": "2012-07-05 18", "t2": "2012-07-12 05", "y1": 108.4, "y2": 90.5},
     {"t1": "2012-06-18 09", "t2": "2012-06-22 04", "y1": 31.4, "y2": 16.2},
     {"t1": "2012-09-20 02", "t2": "2012-09-20 02", "y1": 91.5, "y2": 55.7}], "format": {"parse": {"t1": "utc:'%Y-%m-%d %H'", "t2": "utc:'%Y-%m-%d %H'"}}},
   "mark": {"type": "rule", "color": "black", "strokeWidth": 1.5, "strokeDash": [3, 2]},
   "encoding": {
    "x": {"field": "t1", "type": "temporal", "scale": {"type": "utc", "domain": [{"year": 2012, "month": 6, "date": 5, "utc": true}, {"year": 2012, "month": 10, "date": 3, "utc": true}]}},
    "x2": {"field": "t2"},
    "y": {"field": "y1", "type": "quantitative", "scale": {"domain": [0, 160], "nice": false}},
    "y2": {"field": "y2"}
   }
  },
  {
   "data": {"values": [
     {"t1": "2012-06-15 10", "t2": "2012-07-06 07", "y1": 108.4, "y2": 133.3},
     {"t1": "2012-06-22 03", "t2": "2012-07-11 16", "y1": 6.1, "y2": 25},
     {"t1": "2012-09-08 16", "t2": "2012-09-28 05", "y1": 91.5, "y2": 110.4}], "format": {"parse": {"t1": "utc:'%Y-%m-%d %H'", "t2": "utc:'%Y-%m-%d %H'"}}},
   "mark": {"type": "rect", "fill": "#FF9933"},
   "encoding": {
    "x": {"field": "t1", "type": "temporal", "scale": {"type": "utc", "domain": [{"year": 2012, "month": 6, "date": 5, "utc": true}, {"year": 2012, "month": 10, "date": 3, "utc": true}]}},
    "x2": {"field": "t2"},
    "y": {"field": "y1", "type": "quantitative", "scale": {"domain": [0, 160], "nice": false}},
    "y2": {"field": "y2"}
   }
  },
  {
   "data": {"values": [
     {"tx": "2012-06-25 21", "ty": 130.3, "label": "Aktivierung\nNachtabschaltung\nund Vp Erhöhung\n12.7.12"},
     {"tx": "2012-07-01 21", "ty": 21.6, "label": "Erhöhung\nVolumenstrom\n18.6.12"},
     {"tx": "2012-09-18 10", "ty": 107.0, "label": "Reduktion\nNachtabschaltung\nam 20.9.2012"}], "format": {"parse": {"tx": "utc:'%Y-%m-%d %H'"}}},
   "mark": {"type": "text", "fontSize": 13.5, "fontWeight": "bold", "lineBreak": "\n", "lineHeight": 18, "align": "center", "baseline": "middle", "color": "black"},
   "encoding": {
    "x": {"field": "tx", "type": "temporal", "scale": {"type": "utc", "domain": [{"year": 2012, "month": 6, "date": 5, "utc": true}, {"year": 2012, "month": 10, "date": 3, "utc": true}]}},
    "y": {"field": "ty", "type": "quantitative", "scale": {"domain": [0, 160], "nice": false}},
    "text": {"field": "label"}
   }
  },
  {
   "data": {"values": [{"t1": "2012-06-29 05", "t2": "2012-08-08 02", "y1": 169.8, "y2": 179.2}], "format": {"parse": {"t1": "utc:'%Y-%m-%d %H'", "t2": "utc:'%Y-%m-%d %H'"}}},
   "mark": {"type": "rect", "fillOpacity": 0, "stroke": "#555555", "strokeWidth": 1},
   "encoding": {
    "x": {"field": "t1", "type": "temporal", "scale": {"type": "utc", "domain": [{"year": 2012, "month": 6, "date": 5, "utc": true}, {"year": 2012, "month": 10, "date": 3, "utc": true}]}},
    "x2": {"field": "t2"},
    "y": {"field": "y1", "type": "quantitative", "scale": {"domain": [0, 160], "nice": false}},
    "y2": {"field": "y2"}
   }
  },
  {
   "data": {"values": [{"t1": "2012-06-05 06", "t2": "2012-06-22 19", "y1": 157.6, "y2": 162.4}], "format": {"parse": {"t1": "utc:'%Y-%m-%d %H'", "t2": "utc:'%Y-%m-%d %H'"}}},
   "mark": {"type": "rect", "fill": "white"},
   "encoding": {
    "x": {"field": "t1", "type": "temporal", "scale": {"type": "utc", "domain": [{"year": 2012, "month": 6, "date": 5, "utc": true}, {"year": 2012, "month": 10, "date": 3, "utc": true}]}},
    "x2": {"field": "t2"},
    "y": {"field": "y1", "type": "quantitative", "scale": {"domain": [0, 160], "nice": false}},
    "y2": {"field": "y2"}
   }
  },
  {
   "data": {"values": [{"tx": "2012-06-14 06", "ty": 160, "label": "© Passivhaus Institut"}], "format": {"parse": {"tx": "utc:'%Y-%m-%d %H'"}}},
   "mark": {"type": "text", "fontSize": 12.5, "align": "center", "baseline": "middle", "color": "black"},
   "encoding": {
    "x": {"field": "tx", "type": "temporal", "scale": {"type": "utc", "domain": [{"year": 2012, "month": 6, "date": 5, "utc": true}, {"year": 2012, "month": 10, "date": 3, "utc": true}]}},
    "y": {"field": "ty", "type": "quantitative", "scale": {"domain": [0, 160], "nice": false}},
    "text": {"field": "label"}
   }
  }
 ]
}
]
}
